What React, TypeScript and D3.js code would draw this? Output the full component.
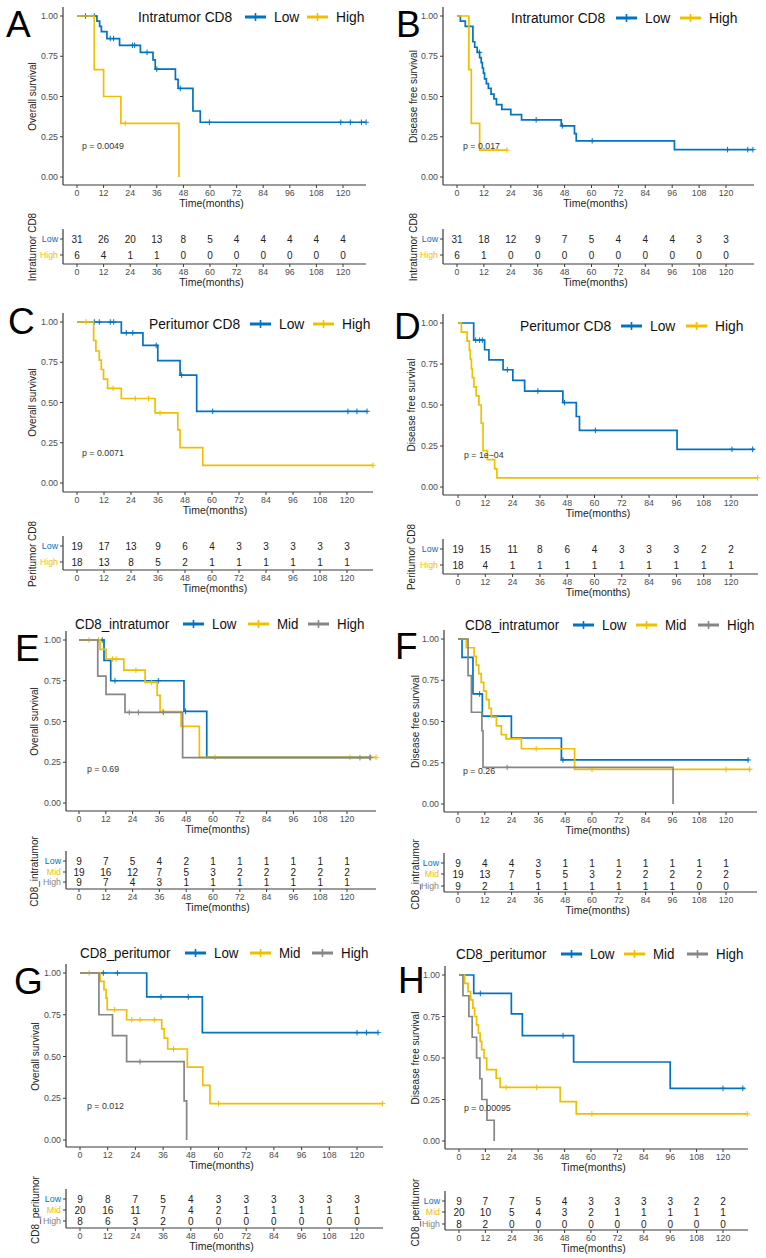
import React from "react";
import * as d3 from "d3";

type Step = [number, number];

const TIME_TICKS = [0, 12, 24, 36, 48, 60, 72, 84, 96, 108, 120];
const SURV_TICKS = [0, 0.25, 0.5, 0.75, 1];

// ---------- Panel A (Intratumor CD8, overall survival)
const A_LOW_STEPS: Step[] = [[9, 0.968], [10.2, 0.935], [11, 0.903], [13.5, 0.86], [19.2, 0.818], [28.6, 0.774], [34.3, 0.727], [35.3, 0.67], [44.4, 0.606], [45.6, 0.55], [52.3, 0.41], [55.6, 0.34]];
const A_LOW_CENSOR = [3.8, 7.8, 15, 16.5, 25, 26, 31.6, 36, 46.6, 59.7, 119, 123.3, 128.3, 130.4];
const A_LOW_END = 130.4;
const A_HIGH_STEPS: Step[] = [[7.8, 0.667], [12, 0.5], [19.8, 0.333], [46, 0]];
const A_HIGH_CENSOR = [21.8];
const A_HIGH_END = 46;
const A_RISK_LOW = [31, 26, 20, 13, 8, 5, 4, 4, 4, 4, 4];
const A_RISK_HIGH = [6, 4, 1, 1, 0, 0, 0, 0, 0, 0, 0];

// ---------- Panel B (Intratumor CD8, disease free survival)
const B_LOW_STEPS: Step[] = [[1.5, 0.968], [3.7, 0.935], [7.1, 0.84], [7.9, 0.806], [9, 0.774], [10.1, 0.742], [10.8, 0.71], [11.3, 0.677], [11.8, 0.645], [12.3, 0.61], [13.1, 0.58], [14, 0.55], [15.2, 0.515], [16.5, 0.485], [17.6, 0.45], [20, 0.42], [24, 0.387], [28.8, 0.355], [46.5, 0.318], [52.4, 0.27], [53.2, 0.225], [97, 0.17]];
const B_LOW_CENSOR = [10, 35.3, 47, 60.3, 120.7, 129.7, 132];
const B_LOW_END = 132;
const B_HIGH_STEPS: Step[] = [[5.3, 0.667], [6.4, 0.333], [10.1, 0.167]];
const B_HIGH_CENSOR = [22.3];
const B_HIGH_END = 22.3;
const B_RISK_LOW = [31, 18, 12, 9, 7, 5, 4, 4, 4, 3, 3];
const B_RISK_HIGH = [6, 1, 0, 0, 0, 0, 0, 0, 0, 0, 0];

// ---------- Panel C (Peritumor CD8, overall survival)
const C_LOW_STEPS: Step[] = [[19.7, 0.933], [29.3, 0.855], [35.9, 0.76], [45.8, 0.67], [53.2, 0.445]];
const C_LOW_CENSOR = [7.7, 9.9, 14.8, 16.3, 21.9, 24.8, 35.2, 46.5, 60.3, 120.4, 124.4, 128.9];
const C_LOW_END = 129;
const C_HIGH_STEPS: Step[] = [[7.4, 0.885], [8.4, 0.82], [9.9, 0.763], [10.8, 0.705], [11.8, 0.645], [13.6, 0.588], [19.7, 0.525], [34.7, 0.435], [44.8, 0.33], [45.8, 0.22], [55.9, 0.11]];
const C_HIGH_CENSOR = [4, 16, 25.9, 31.8, 36.9, 131.5];
const C_HIGH_END = 131.5;
const C_RISK_LOW = [19, 17, 13, 9, 6, 4, 3, 3, 3, 3, 3];
const C_RISK_HIGH = [18, 13, 8, 5, 2, 1, 1, 1, 1, 1, 1];

// ---------- Panel D (Peritumor CD8, disease free survival)
const D_LOW_STEPS: Step[] = [[6.9, 0.895], [11.7, 0.837], [13.6, 0.775], [19.8, 0.715], [24.1, 0.65], [29.3, 0.585], [46.1, 0.515], [52, 0.43], [53.4, 0.345], [96.3, 0.23]];
const D_LOW_CENSOR = [7.8, 9.5, 10.7, 21.7, 35.1, 46.8, 60.4, 120.4, 129.5];
const D_LOW_END = 130.3;
const D_HIGH_STEPS: Step[] = [[1.5, 0.944], [4.0, 0.889], [5.0, 0.833], [5.4, 0.778], [5.9, 0.722], [6.3, 0.667], [7, 0.611], [8, 0.556], [9.2, 0.5], [10.2, 0.389], [11, 0.222], [12.9, 0.167], [16.1, 0.111], [17.1, 0.056]];
const D_HIGH_CENSOR = [131.7];
const D_HIGH_END = 131.7;
const D_RISK_LOW = [19, 15, 11, 8, 6, 4, 3, 3, 3, 2, 2];
const D_RISK_HIGH = [18, 4, 1, 1, 1, 1, 1, 1, 1, 1, 1];

// ---------- Panel E (CD8_intratumor, overall survival)
const E_LOW_STEPS: Step[] = [[11.2, 0.875], [14.2, 0.75], [47, 0.5625], [57.2, 0.28]];
const E_LOW_CENSOR = [10.4, 16.1, 35.5, 47.7, 130.3];
const E_LOW_END = 130.3;
const E_MID_STEPS: Step[] = [[9.4, 0.943], [12.1, 0.883], [20.1, 0.815], [29.6, 0.74], [35, 0.66], [36.3, 0.56], [45.7, 0.47], [53.9, 0.28]];
const E_MID_CENSOR = [4.5, 8.7, 15, 16.6, 25.5, 32.5, 37.5, 60.9, 121.3, 133];
const E_MID_END = 133;
const E_HIGH_STEPS: Step[] = [[8.4, 0.778], [12.1, 0.667], [20.6, 0.556], [46.4, 0.278]];
const E_HIGH_CENSOR = [22.5, 26.6, 37.8, 125.8, 130.6];
const E_HIGH_END = 130.6;
const E_RISK_LOW = [9, 7, 5, 4, 2, 1, 1, 1, 1, 1, 1];
const E_RISK_MID = [19, 16, 12, 7, 5, 3, 2, 2, 2, 2, 2];
const E_RISK_HIGH = [9, 7, 4, 3, 1, 1, 1, 1, 1, 1, 1];

// ---------- Panel F (CD8_intratumor, disease free survival)
const F_LOW_STEPS: Step[] = [[1.8, 0.889], [6.7, 0.667], [10.9, 0.533], [23.9, 0.4], [46.3, 0.267]];
const F_LOW_CENSOR = [9.7, 47, 129.9];
const F_LOW_END = 130;
const F_MID_STEPS: Step[] = [[3.7, 0.947], [7.2, 0.895], [8.2, 0.842], [9.3, 0.79], [10.4, 0.737], [11.5, 0.684], [12.7, 0.632], [13.9, 0.579], [14.9, 0.526], [17.2, 0.474], [19.4, 0.421], [21.5, 0.395], [28.4, 0.335], [52.2, 0.21]];
const F_MID_CENSOR = [35, 60, 120, 130.6];
const F_MID_END = 131;
const F_HIGH_STEPS: Step[] = [[4.5, 0.778], [6, 0.556], [10.7, 0.444], [11.2, 0.222], [96.3, 0]];
const F_HIGH_CENSOR = [22];
const F_HIGH_END = 96.3;
const F_RISK_LOW = [9, 4, 4, 3, 1, 1, 1, 1, 1, 1, 1];
const F_RISK_MID = [19, 13, 7, 5, 5, 3, 2, 2, 2, 2, 2];
const F_RISK_HIGH = [9, 2, 1, 1, 1, 1, 1, 1, 1, 0, 0];

// ---------- Panel G (CD8_peritumor, overall survival)
const G_LOW_STEPS: Step[] = [[28.9, 0.857], [53, 0.643]];
const G_LOW_CENSOR = [10.1, 16.2, 35.1, 46.9, 120, 124.1, 129.1];
const G_LOW_END = 129.1;
const G_MID_STEPS: Step[] = [[8.7, 0.95], [10.4, 0.9], [11.3, 0.85], [11.8, 0.78], [20.2, 0.72], [35.4, 0.665], [36.5, 0.61], [38, 0.545], [46.5, 0.436], [53.2, 0.327], [56.3, 0.218]];
const G_MID_CENSOR = [4, 14.9, 22.4, 26, 32.2, 40.5, 60, 131];
const G_MID_END = 131;
const G_HIGH_STEPS: Step[] = [[8.2, 0.75], [14.1, 0.625], [20.2, 0.469], [45.1, 0.234], [46.2, 0]];
const G_HIGH_CENSOR = [26];
const G_HIGH_END = 46.2;
const G_RISK_LOW = [9, 8, 7, 5, 4, 3, 3, 3, 3, 3, 3];
const G_RISK_MID = [20, 16, 11, 7, 4, 2, 1, 1, 1, 1, 1];
const G_RISK_HIGH = [8, 6, 3, 2, 0, 0, 0, 0, 0, 0, 0];

// ---------- Panel H (CD8_peritumor, disease free survival)
const H_LOW_STEPS: Step[] = [[6.7, 0.889], [23.8, 0.766], [28.8, 0.635], [52.1, 0.476], [96, 0.317]];
const H_LOW_CENSOR = [9.7, 47.3, 120, 129];
const H_LOW_END = 130;
const H_MID_STEPS: Step[] = [[2.6, 0.95], [4.1, 0.9], [5.3, 0.85], [6.3, 0.8], [7.1, 0.75], [8, 0.7], [8.8, 0.65], [9.6, 0.6], [10.3, 0.55], [11.4, 0.5], [12.6, 0.43], [16.9, 0.378], [18.7, 0.323], [46, 0.237], [53.3, 0.163]];
const H_MID_CENSOR = [21.4, 35.3, 60.4, 131];
const H_MID_END = 131;
const H_HIGH_STEPS: Step[] = [[1.8, 0.875], [4.5, 0.75], [6, 0.625], [8, 0.5], [9.5, 0.375], [10.4, 0.25], [12.7, 0.125], [16, 0]];
const H_HIGH_CENSOR: number[] = [];
const H_HIGH_END = 16;
const H_RISK_LOW = [9, 7, 7, 5, 4, 3, 3, 3, 3, 2, 2];
const H_RISK_MID = [20, 10, 5, 4, 3, 2, 1, 1, 1, 1, 1];
const H_RISK_HIGH = [8, 2, 0, 0, 0, 0, 0, 0, 0, 0, 0];

const P_VALUES = ["p = 0.0049", "p = 0.017", "p = 0.0071", "p = 1e\u221204", "p = 0.69", "p = 0.26", "p = 0.012", "p = 0.00095"];
const LEGEND_TITLES = ["Intratumor CD8", "Intratumor CD8", "Peritumor CD8", "Peritumor CD8", "CD8_intratumor", "CD8_intratumor", "CD8_peritumor", "CD8_peritumor"];
const Y_LABELS = ["Overall survival", "Disease free survival"];

// ---------- styles
const BLUE = "#0073C2";
const YELLOW = "#EFC000";
const GRAY = "#868686";
const FONT = "'Liberation Sans', Arial, sans-serif";

interface Group { name: string; color: string; steps: Step[]; censor: number[]; end: number; risk: number[]; }
interface Layout {
  letter: string; letterX: number; letterY: number;
  yAxisX: number; x0: number; x120: number; xEnd: number;
  y1: number; y0: number; axisY: number; yLabelX: number;
  legendY: number; legendTitleX: number; legendSymX: number[]; legendFont: number;
  pX: number; pY: number;
  riskRows: number[]; riskAxisY: number;
}

const two = (ls: Step[], lc: number[], le: number, lr: number[], hs: Step[], hc: number[], he: number, hr: number[]): Group[] => [
  { name: "Low", color: BLUE, steps: ls, censor: lc, end: le, risk: lr },
  { name: "High", color: YELLOW, steps: hs, censor: hc, end: he, risk: hr },
];
const three = (ls: Step[], lc: number[], le: number, lr: number[], ms: Step[], mc: number[], me: number, mr: number[], hs: Step[], hc: number[], he: number, hr: number[]): Group[] => [
  { name: "Low", color: BLUE, steps: ls, censor: lc, end: le, risk: lr },
  { name: "Mid", color: YELLOW, steps: ms, censor: mc, end: me, risk: mr },
  { name: "High", color: GRAY, steps: hs, censor: hc, end: he, risk: hr },
];

const GROUPS: Group[][] = [
  two(A_LOW_STEPS, A_LOW_CENSOR, A_LOW_END, A_RISK_LOW, A_HIGH_STEPS, A_HIGH_CENSOR, A_HIGH_END, A_RISK_HIGH),
  two(B_LOW_STEPS, B_LOW_CENSOR, B_LOW_END, B_RISK_LOW, B_HIGH_STEPS, B_HIGH_CENSOR, B_HIGH_END, B_RISK_HIGH),
  two(C_LOW_STEPS, C_LOW_CENSOR, C_LOW_END, C_RISK_LOW, C_HIGH_STEPS, C_HIGH_CENSOR, C_HIGH_END, C_RISK_HIGH),
  two(D_LOW_STEPS, D_LOW_CENSOR, D_LOW_END, D_RISK_LOW, D_HIGH_STEPS, D_HIGH_CENSOR, D_HIGH_END, D_RISK_HIGH),
  three(E_LOW_STEPS, E_LOW_CENSOR, E_LOW_END, E_RISK_LOW, E_MID_STEPS, E_MID_CENSOR, E_MID_END, E_RISK_MID, E_HIGH_STEPS, E_HIGH_CENSOR, E_HIGH_END, E_RISK_HIGH),
  three(F_LOW_STEPS, F_LOW_CENSOR, F_LOW_END, F_RISK_LOW, F_MID_STEPS, F_MID_CENSOR, F_MID_END, F_RISK_MID, F_HIGH_STEPS, F_HIGH_CENSOR, F_HIGH_END, F_RISK_HIGH),
  three(G_LOW_STEPS, G_LOW_CENSOR, G_LOW_END, G_RISK_LOW, G_MID_STEPS, G_MID_CENSOR, G_MID_END, G_RISK_MID, G_HIGH_STEPS, G_HIGH_CENSOR, G_HIGH_END, G_RISK_HIGH),
  three(H_LOW_STEPS, H_LOW_CENSOR, H_LOW_END, H_RISK_LOW, H_MID_STEPS, H_MID_CENSOR, H_MID_END, H_RISK_MID, H_HIGH_STEPS, H_HIGH_CENSOR, H_HIGH_END, H_RISK_HIGH),
];

const LAYOUTS: Layout[] = [
  { letter: "A", letterX: 6, letterY: 37, yAxisX: 63, x0: 77, x120: 343, xEnd: 366, y1: 16, y0: 177, axisY: 185, yLabelX: 32, legendY: 17, legendTitleX: 138, legendSymX: [245, 307], legendFont: 15.5, pX: 82, pY: 146, riskRows: [239, 255], riskAxisY: 264 },
  { letter: "B", letterX: 396, letterY: 37, yAxisX: 443, x0: 457, x120: 726, xEnd: 754, y1: 16, y0: 177, axisY: 185, yLabelX: 413, legendY: 18, legendTitleX: 511, legendSymX: [616, 680], legendFont: 15.5, pX: 463, pY: 146, riskRows: [239, 255], riskAxisY: 264 },
  { letter: "C", letterX: 8, letterY: 334, yAxisX: 63, x0: 77, x120: 347, xEnd: 373, y1: 322, y0: 483, axisY: 492, yLabelX: 32, legendY: 324, legendTitleX: 149, legendSymX: [250, 313], legendFont: 15.5, pX: 82, pY: 453, riskRows: [546, 562], riskAxisY: 570 },
  { letter: "D", letterX: 394, letterY: 339, yAxisX: 443, x0: 458, x120: 731, xEnd: 758, y1: 323, y0: 487, axisY: 495, yLabelX: 411, legendY: 326, legendTitleX: 520, legendSymX: [621, 686], legendFont: 15.5, pX: 464, pY: 455, riskRows: [549, 565], riskAxisY: 574 },
  { letter: "E", letterX: 15, letterY: 661, yAxisX: 66, x0: 79, x120: 347, xEnd: 376, y1: 640, y0: 803, axisY: 811, yLabelX: 34, legendY: 624, legendTitleX: 75, legendSymX: [183, 248, 308], legendFont: 15, pX: 87, pY: 769, riskRows: [861, 872, 882], riskAxisY: 889 },
  { letter: "F", letterX: 395, letterY: 659, yAxisX: 444, x0: 458, x120: 726, xEnd: 757, y1: 639, y0: 804, axisY: 812, yLabelX: 415, legendY: 625, legendTitleX: 465, legendSymX: [573, 636, 698], legendFont: 15, pX: 463, pY: 771, riskRows: [863, 874, 886], riskAxisY: 892 },
  { letter: "G", letterX: 14, letterY: 994, yAxisX: 66, x0: 80, x120: 357, xEnd: 383, y1: 973, y0: 1140, axisY: 1147, yLabelX: 35, legendY: 953, legendTitleX: 80, legendSymX: [185, 250, 312], legendFont: 15, pX: 87, pY: 1106, riskRows: [1199, 1210, 1221], riskAxisY: 1228 },
  { letter: "H", letterX: 398, letterY: 993, yAxisX: 445, x0: 459, x120: 723, xEnd: 748, y1: 975, y0: 1141, axisY: 1149, yLabelX: 415, legendY: 954, legendTitleX: 456, legendSymX: [561, 624, 687], legendFont: 15, pX: 464, pY: 1108, riskRows: [1201, 1212, 1224], riskAxisY: 1230 },
];

function survAt(steps: Step[], t: number): number {
  let s = 1;
  for (const [tt, ss] of steps) if (tt <= t) s = ss;
  return s;
}

const AXIS_COL = "#3a3a3a";
const TICK_COL = "#4d4d4d";
const LEGEND_SQUEEZE = 0.89;

function Plus({ cx, cy, r, color, w }: { cx: number; cy: number; r: number; color: string; w: number }) {
  return (
    <g stroke={color} strokeWidth={w}>
      <line x1={cx - r} x2={cx + r} y1={cy} y2={cy} />
      <line x1={cx} x2={cx} y1={cy - r} y2={cy + r} />
    </g>
  );
}

function LegendText({ x, y, size, children }: { x: number; y: number; size: number; children: React.ReactNode }) {
  return (
    <text transform={`translate(${x},${y}) scale(${LEGEND_SQUEEZE},1)`} fontSize={size} dominantBaseline="central" fill="#111">{children}</text>
  );
}

function Panel({ L, groups, idx }: { L: Layout; groups: Group[]; idx: number }) {
  const x = d3.scaleLinear().domain([0, 120]).range([L.x0, L.x120]);
  const y = d3.scaleLinear().domain([0, 1]).range([L.y0, L.y1]);
  const line = d3.line<Step>().x((d) => x(d[0])).y((d) => y(d[1])).curve(d3.curveStepAfter);
  const yLabel = Y_LABELS[idx % 2];
  const riskTop = L.riskRows[0] - 10;
  const riskMid = (L.riskRows[0] + L.riskRows[L.riskRows.length - 1]) / 2;
  return (
    <g fontFamily={FONT}>
      <text x={L.letterX} y={L.letterY} fontSize={37} fill="#000">{L.letter}</text>
      {/* legend */}
      <LegendText x={L.legendTitleX} y={L.legendY} size={L.legendFont}>{LEGEND_TITLES[idx]}</LegendText>
      {groups.map((g, i) => {
        const sx = L.legendSymX[i];
        return (
          <g key={g.name}>
            <line x1={sx} x2={sx + 21} y1={L.legendY} y2={L.legendY} stroke={g.color} strokeWidth={3} />
            <Plus cx={sx + 10.5} cy={L.legendY} r={4} color={g.color} w={1.6} />
            <LegendText x={sx + 29} y={L.legendY} size={L.legendFont}>{g.name}</LegendText>
          </g>
        );
      })}
      {/* axes */}
      <line x1={L.yAxisX} x2={L.yAxisX} y1={L.y1 - 9} y2={L.axisY} stroke={AXIS_COL} strokeWidth={1.2} />
      <line x1={L.yAxisX} x2={L.xEnd} y1={L.axisY} y2={L.axisY} stroke={AXIS_COL} strokeWidth={1.2} />
      {SURV_TICKS.map((t) => (
        <g key={t}>
          <line x1={L.yAxisX - 3} x2={L.yAxisX} y1={y(t)} y2={y(t)} stroke={AXIS_COL} strokeWidth={1} />
          <text x={L.yAxisX - 5} y={y(t)} fontSize={8.8} textAnchor="end" dominantBaseline="central" fill={TICK_COL}>{t.toFixed(2)}</text>
        </g>
      ))}
      {TIME_TICKS.map((t) => (
        <g key={t}>
          <line x1={x(t)} x2={x(t)} y1={L.axisY} y2={L.axisY + 3} stroke={AXIS_COL} strokeWidth={1} />
          <text x={x(t)} y={L.axisY + 8} fontSize={8.8} textAnchor="middle" dominantBaseline="central" fill={TICK_COL}>{t}</text>
        </g>
      ))}
      <text x={(L.x0 + L.xEnd) / 2 - 10} y={L.axisY + 18} fontSize={10.5} textAnchor="middle" dominantBaseline="central" fill="#222">Time(months)</text>
      <text transform={`translate(${L.yLabelX + 3.5},${(L.y1 + L.y0) / 2}) rotate(-90)`} fontSize={10} textAnchor="middle" fill="#222">{yLabel}</text>
      {/* curves */}
      {groups.map((g) => {
        const last = g.steps.length ? g.steps[g.steps.length - 1][1] : 1;
        const pts: Step[] = [[0, 1], ...g.steps, [g.end, last]];
        return (
          <g key={g.name}>
            <path d={line(pts) || ""} fill="none" stroke={g.color} strokeWidth={1.7} />
            {g.censor.map((c, i) => (
              <Plus key={i} cx={x(c)} cy={y(survAt(g.steps, c))} r={2.8} color={g.color} w={1} />
            ))}
          </g>
        );
      })}
      <text x={L.pX} y={L.pY} fontSize={8.8} dominantBaseline="central" fill="#333">{P_VALUES[idx]}</text>
      {/* risk table */}
      <line x1={L.yAxisX} x2={L.yAxisX} y1={riskTop} y2={L.riskAxisY} stroke={AXIS_COL} strokeWidth={1.2} />
      <line x1={L.yAxisX} x2={L.xEnd} y1={L.riskAxisY} y2={L.riskAxisY} stroke={AXIS_COL} strokeWidth={1.2} />
      {groups.map((g, i) => (
        <g key={g.name}>
          <line x1={L.yAxisX - 3} x2={L.yAxisX} y1={L.riskRows[i]} y2={L.riskRows[i]} stroke={AXIS_COL} strokeWidth={1} />
          <text x={L.yAxisX - 5} y={L.riskRows[i]} fontSize={8.8} textAnchor="end" dominantBaseline="central" fill={g.color}>{g.name}</text>
          {g.risk.map((n, j) => (
            <text key={j} x={x(TIME_TICKS[j])} y={L.riskRows[i]} fontSize={10} textAnchor="middle" dominantBaseline="central" fill="#222">{n}</text>
          ))}
        </g>
      ))}
      {TIME_TICKS.map((t) => (
        <g key={t}>
          <line x1={x(t)} x2={x(t)} y1={L.riskAxisY} y2={L.riskAxisY + 3} stroke={AXIS_COL} strokeWidth={1} />
          <text x={x(t)} y={L.riskAxisY + 8} fontSize={8.8} textAnchor="middle" dominantBaseline="central" fill={TICK_COL}>{t}</text>
        </g>
      ))}
      <text x={(L.x0 + L.xEnd) / 2 - 10} y={L.riskAxisY + 18} fontSize={10.5} textAnchor="middle" dominantBaseline="central" fill="#222">Time(months)</text>
      <text transform={`translate(${L.yLabelX + 3.5},${riskMid}) rotate(-90)`} fontSize={10} textAnchor="middle" fill="#222">{LEGEND_TITLES[idx]}</text>
    </g>
  );
}

export default function App() {
  return (
    <svg width={766} height={1258} style={{ position: "absolute", left: 0, top: 0, background: "#fff" }}>
      <rect width={766} height={1258} fill="#fff" />
      {LAYOUTS.map((L, i) => (
        <Panel key={i} L={L} groups={GROUPS[i]} idx={i} />
      ))}
    </svg>
  );
}
